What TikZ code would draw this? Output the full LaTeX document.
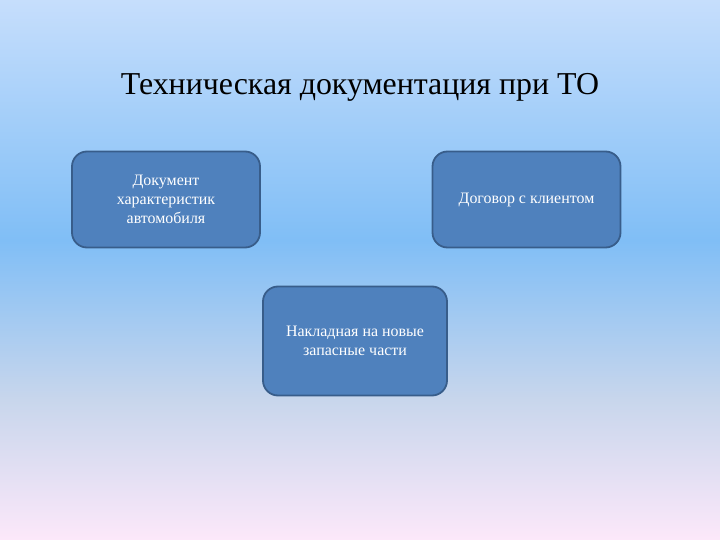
\documentclass[tikz,border=0pt]{standalone}
\usepackage{fontspec}
\setmainfont{Liberation Serif}
\usetikzlibrary{positioning}
\definecolor{bgtop}{RGB}{198,222,252}
\definecolor{bgmid}{RGB}{128,190,246}
\definecolor{bglow}{RGB}{200,214,236}
\definecolor{bgbot}{RGB}{252,232,250}
\definecolor{boxfill}{RGB}{79,129,189}
\definecolor{boxline}{RGB}{56,93,138}
\tikzstyle{docbox}=[rectangle,rounded corners=15bp,fill=boxfill,draw=boxline,line width=1.8bp,text=white,align=center,font=\fontsize{16}{19}\selectfont,inner sep=0pt]
\tikzstyle{heading} = [font=\fontsize{32}{38}\selectfont,text=black]

\begin{document}
\begin{tikzpicture}[x=1bp,y=-1bp]

    % background
    \useasboundingbox (0,0) rectangle (720,540);
    \shade[top color=bgtop, bottom color=bgmid] (0,0) rectangle (720,240);
    \shade[top color=bgmid, bottom color=bglow] (0,240) rectangle (720,400);
    \shade[top color=bglow, bottom color=bgbot] (0,400) rectangle (720,540);

    \node[heading] (title) at (360,87) {Техническая документация при ТО};

    \foreach \pos/\name/\label in {{(166,199.5)/doc/{Документ\\характеристик\\автомобиля}}, {(526.5,199.5)/contract/{Договор с клиентом}}}
        \node[docbox,minimum width=188bp,minimum height=96bp] (\name) at \pos {\label};

    \foreach \pos/\name/\label in {{(355,341)/invoice/{Накладная на новые\\запасные части}}}
        \node[docbox,minimum width=184bp,minimum height=109bp] (\name) at \pos {\label};

    \end{tikzpicture}
\end{document}
